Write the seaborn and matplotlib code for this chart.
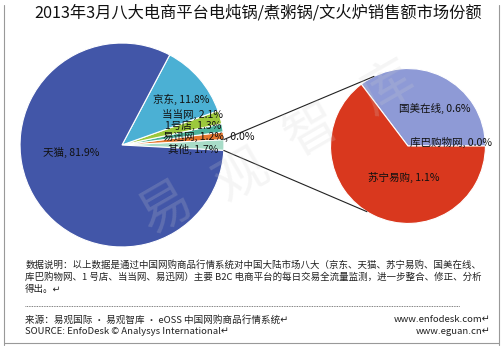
import numpy as np
import seaborn as sns
import matplotlib
matplotlib.use("Agg")
import matplotlib.pyplot as plt
from matplotlib.patches import ConnectionPatch

# main pie: counter-clockwise from the "其他" slice that faces the small pie
main_names = ["其他", "易迅网", "1号店", "当当网", "京东", "天猫"]
main_values = [1.7, 1.2, 1.3, 2.1, 11.8, 81.9]
main_colors = ["#a8dcc8", "#e8772e", "#4db39c", "#9cc83c", "#4bb0d4", "#4256a8"]

# breakdown of "其他"
sub_names = ["库巴购物网", "国美在线", "苏宁易购"]
sub_values = [0.0, 0.6, 1.1]
sub_colors = ["#8e9ad6", "#8e9ad6", "#d9381e"]

title = "2013年3月八大电商平台电炖锅/煮粥锅/文火炉销售额市场份额"
note_lines = ["数据说明：以上数据是通过中国网购商品行情系统对中国大陆市场八大（京东、天猫、苏宁易购、国美在线、",
              "库巴购物网、1 号店、当当网、易迅网）主要 B2C 电商平台的每日交易全流量监测，进一步整合、修正、分析",
              "得出。↵"]

sns.set_theme(style="white")
plt.rcParams['font.family'] = ['Noto Sans CJK SC', 'DejaVu Sans']

fig = plt.figure(figsize=(5.03, 3.52), dpi=100)
fig.patch.set_facecolor("white")

ax1 = fig.add_axes([0.0358, 0.2926, 0.4135, 0.5909])
ax2 = fig.add_axes([0.654, 0.3608, 0.3141, 0.4489])

start = -main_values[0] / sum(main_values) * 360 / 2
w1, _ = ax1.pie(main_values, colors=main_colors, startangle=start, radius=1,
                wedgeprops=dict(edgecolor="white", linewidth=0.8))
w2, _ = ax2.pie(sub_values, colors=sub_colors, startangle=0, radius=1,
                wedgeprops=dict(edgecolor="white", linewidth=0.8))
for ax in (ax1, ax2):
    ax.set_xlim(-1.02, 1.02)
    ax.set_ylim(-1.02, 1.02)
    ax.set_aspect("equal")
    ax.axis("off")

lab = dict(fontsize=7.6, color="#111111", va="center")
main_pos = {"其他": (0.70, -0.04), "易迅网": (0.70, 0.077), "1号店": (0.70, 0.19),
            "当当网": (0.69, 0.30), "京东": (0.58, 0.45), "天猫": (-0.50, -0.07)}
for n, v in zip(main_names, main_values):
    x, y = main_pos[n]
    ax1.text(x, y, f"{n}, {v}%", ha="center", **lab)
ax1.text(1.01, 0.077, ", 0.0%", ha="left", clip_on=False, **lab)

sub_pos = {"国美在线": (0.34, 0.48), "库巴购物网": (0.56, 0.04), "苏宁易购": (-0.06, -0.405)}
for n, v in zip(sub_names, sub_values):
    x, y = sub_pos[n]
    ax2.text(x, y, f"{n}, {v}%", ha="center", **lab)

# connector lines between the "其他" slice and the small pie
a0 = np.deg2rad(start)
a1 = np.deg2rad(-start)
for a_main, a_sub in [(a1, np.deg2rad(116)), (a0, np.deg2rad(-122))]:
    con = ConnectionPatch(xyA=(np.cos(a_main), np.sin(a_main)), coordsA=ax1.transData,
                          xyB=(np.cos(a_sub), np.sin(a_sub)), coordsB=ax2.transData,
                          color="#222222", linewidth=0.8)
    fig.add_artist(con)

# watermark
for ch, (x, y) in zip("易观智库", [(0.33, 0.41), (0.48, 0.50), (0.62, 0.63), (0.77, 0.75)]):
    fig.text(x, y, ch, fontsize=38, color="#d0d0d0", alpha=0.2, rotation=30,
             ha="center", va="center")

fig.text(0.513, 0.962, title, fontsize=11.7, ha="center", va="center", color="#111111")

for i, line in enumerate(note_lines):
    fig.text(0.05, 0.247 - i * 0.034, line, fontsize=6.8, ha="left", va="center", color="#222222")
fig.add_artist(plt.Line2D([0.05, 0.915], [0.131, 0.131], transform=fig.transFigure,
                          color="#555555", linewidth=0.6, linestyle=(0, (1, 1))))
foot = dict(fontsize=6.9, va="center", color="#222222")
fig.text(0.05, 0.091, "来源：易观国际 · 易观智库 · eOSS 中国网购商品行情系统↵", ha="left", **foot)
fig.text(0.975, 0.091, "www.enfodesk.com↵", ha="right", **foot)
fig.text(0.05, 0.059, "SOURCE: EnfoDesk © Analysys International↵", ha="left", **foot)
fig.text(0.975, 0.059, "www.eguan.cn↵", ha="right", **foot)

# outer frame
for xs, ys in [([0.008, 0.008], [0.02, 0.985]), ([0.993, 0.993], [0.02, 0.985]),
               ([0.008, 0.993], [0.025, 0.025])]:
    fig.add_artist(plt.Line2D(xs, ys, transform=fig.transFigure, color="#999999", linewidth=0.8))

fig.savefig("out.png", dpi=100)
